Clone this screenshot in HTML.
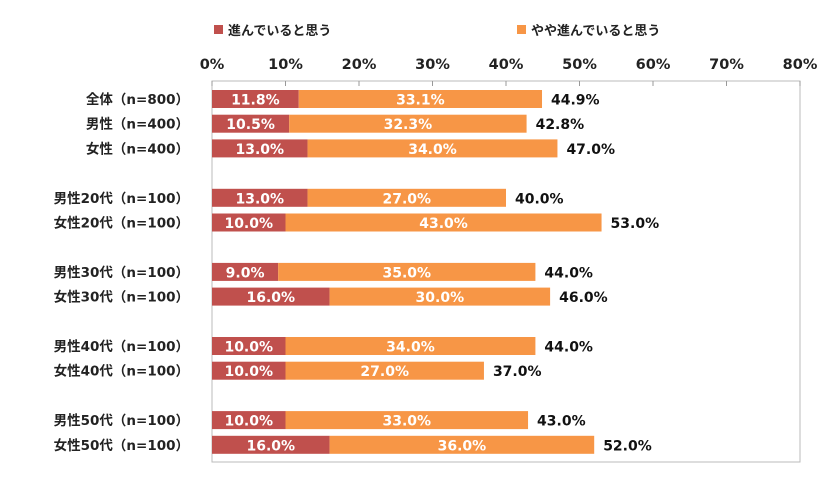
<!DOCTYPE html>
<html><head><meta charset="utf-8"><style>
body{margin:0;background:#fff;}
svg text{font-family:"DejaVu Sans","Noto Sans CJK JP",sans-serif;font-weight:bold;}
</style></head><body>
<svg id="chart" width="840" height="473" xmlns="http://www.w3.org/2000/svg">
<rect x="0" y="0" width="840" height="473" fill="#fff"/>
<g id="legend">
<rect x="214" y="25" width="9" height="9" fill="#C0504D"/>
<text x="228" y="35" font-size="13" fill="#222">進んでいると思う</text>
<rect x="517" y="25" width="9" height="9" fill="#F79646"/>
<text x="531" y="35" font-size="13" fill="#222">やや進んでいると思う</text>
</g>
<rect x="212" y="81" width="588" height="381" fill="none" stroke="#bbb" stroke-width="1"/>
<g id="axis"></g>
<g id="bars"></g>
</svg>
<script>
const categories=["全体（n=800）","男性（n=400）","女性（n=400）","男性20代（n=100）","女性20代（n=100）","男性30代（n=100）","女性30代（n=100）","男性40代（n=100）","女性40代（n=100）","男性50代（n=100）","女性50代（n=100）"];
const slots=[0,1,2,4,5,7,8,10,11,13,14];
const progressing=[11.8,10.5,13.0,13.0,10.0,9.0,16.0,10.0,10.0,10.0,16.0];
const somewhat=[33.1,32.3,34.0,27.0,43.0,35.0,30.0,34.0,27.0,33.0,36.0];
const totals=[44.9,42.8,47.0,40.0,53.0,44.0,46.0,44.0,37.0,43.0,52.0];
const ticks=[0,10,20,30,40,50,60,70,80];
const NS="http://www.w3.org/2000/svg";
const X0=212,PX=588/80;
function xs(v){return X0+v*PX;}
function yc(s){return 99+s*24.7;}
const axis=document.getElementById('axis'),bars=document.getElementById('bars');
function mk(tag,attrs,parent,txt){const e=document.createElementNS(NS,tag);for(const k in attrs)e.setAttribute(k,attrs[k]);if(txt!==undefined)e.textContent=txt;parent.appendChild(e);return e;}
ticks.forEach(t=>{
  const tl=mk('line',{x1:xs(t),x2:xs(t),y1:81,y2:86,stroke:'#999'},axis);
  
  
  const tx=mk('text',{x:xs(t),y:69,'font-size':14.5,'text-anchor':'middle',fill:'#222'},axis,t+'%');
  
  
});
categories.forEach((c,i)=>{
  const y=yc(slots[i]);
  const lab=mk('text',{x:189,y:y+5,'font-size':13.5,'text-anchor':'end',fill:'#222'},bars,c);
  
  
  const r1=mk('rect',{x:xs(0),y:y-9,width:xs(progressing[i])-xs(0),height:18,fill:'#C0504D'},bars);
  
  
  const r2=mk('rect',{x:xs(progressing[i]),y:y-9,width:xs(progressing[i]+somewhat[i])-xs(progressing[i]),height:18,fill:'#F79646'},bars);
  
  
  const v1=mk('text',{x:(xs(0)+xs(progressing[i]))/2,y:y+5.5,'font-size':14,'text-anchor':'middle',fill:'#fff'},bars,progressing[i].toFixed(1)+'%');
  
  
  const v2=mk('text',{x:(xs(progressing[i])+xs(progressing[i]+somewhat[i]))/2,y:y+5.5,'font-size':14,'text-anchor':'middle',fill:'#fff'},bars,somewhat[i].toFixed(1)+'%');
  
  
  const v3=mk('text',{x:xs(totals[i])+9,y:y+5.5,'font-size':14,fill:'#111'},bars,totals[i].toFixed(1)+'%');
  
  
});
</script>
</body></html>
